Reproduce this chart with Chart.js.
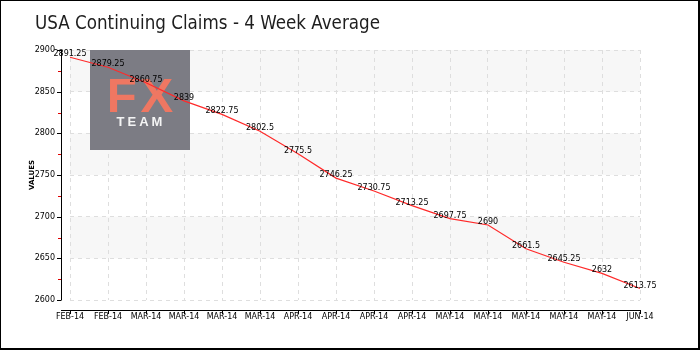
<!DOCTYPE html>
<html>
<head>
<meta charset="utf-8">
<script src="https://cdn.jsdelivr.net/npm/chart.js@4"></script>
<style>
  html, body { margin: 0; padding: 0; background: #fff; }
  #wrap { position: relative; width: 700px; height: 350px; }
</style>
</head>
<body>
<div id="wrap"><canvas id="claimsChart" width="700" height="350"></canvas></div>
<script>
const titleText = 'USA Continuing Claims - 4 Week Average';
const months = ['FEB-14', 'FEB-14', 'MAR-14', 'MAR-14', 'MAR-14', 'MAR-14',
  'APR-14', 'APR-14', 'APR-14', 'APR-14',
  'MAY-14', 'MAY-14', 'MAY-14', 'MAY-14', 'MAY-14', 'JUN-14'];
const claims = [2891.25, 2879.25, 2860.75, 2839, 2822.75, 2802.5, 2775.5, 2746.25,
  2730.75, 2713.25, 2697.75, 2690, 2661.5, 2645.25, 2632, 2613.75];
const yMin = 2600;
const yMax = 2900;
const yStep = 50;

const tickFont = { family: 'DejaVu Sans', size: 8 };

// background bands, axis lines, watermark, value labels, title and frame
const decorations = {
  id: 'decorations',
  beforeDraw(chart) {
    const { ctx, chartArea: a, scales: { y } } = chart;
    ctx.save();
    ctx.fillStyle = '#fff';
    ctx.fillRect(0, 0, chart.width, chart.height);
    ctx.fillStyle = '#f7f7f7';
    for (let v = yMin + yStep; v < yMax; v += yStep * 2) {
      const top = y.getPixelForValue(v + yStep);
      const bottom = y.getPixelForValue(v);
      ctx.fillRect(a.left, top, a.right - a.left, bottom - top);
    }
    ctx.restore();
  },
  beforeDatasetsDraw(chart) {
    const ctx = chart.ctx;
    ctx.save();
    ctx.fillStyle = '#7c7c84';
    ctx.fillRect(90, 50, 100, 100);
    ctx.fillStyle = '#ef7762';
    ctx.font = 'bold 49px "Liberation Sans"';
    ctx.textAlign = 'center';
    ctx.textBaseline = 'alphabetic';
    ctx.letterSpacing = '4px';
    ctx.fillText('FX', 142, 112);
    ctx.fillStyle = '#f4f4f4';
    ctx.font = 'bold 13px "Liberation Sans"';
    ctx.letterSpacing = '3px';
    ctx.fillText('TEAM', 141, 126);
    ctx.restore();
  },
  afterDatasetsDraw(chart) {
    const ctx = chart.ctx;
    const meta = chart.getDatasetMeta(0);
    ctx.save();
    ctx.fillStyle = '#000';
    ctx.font = '8px "DejaVu Sans"';
    ctx.textAlign = 'center';
    ctx.textBaseline = 'bottom';
    meta.data.forEach((pt, i) => {
      ctx.fillText(String(claims[i]), pt.x, pt.y + 1);
    });
    ctx.restore();
  },
  afterDraw(chart) {
    const { ctx, chartArea: a, scales: { x, y } } = chart;
    const axisX = a.left - 9;
    const axisY = a.bottom + 10;
    ctx.save();
    ctx.strokeStyle = '#000';
    ctx.lineWidth = 1;
    ctx.beginPath();
    ctx.moveTo(axisX + 0.5, a.top);
    ctx.lineTo(axisX + 0.5, a.bottom + 0.5);
    ctx.moveTo(axisX, axisY + 0.5);
    ctx.lineTo(a.right + 0.5, axisY + 0.5);
    // major ticks on the value axis
    for (let v = yMin; v <= yMax; v += yStep) {
      const py = Math.round(y.getPixelForValue(v)) + 0.5;
      ctx.moveTo(axisX - 4, py);
      ctx.lineTo(axisX, py);
    }
    // ticks on the month axis
    months.forEach((m, i) => {
      const px = Math.round(x.getPixelForTick(i)) + 0.5;
      ctx.moveTo(px, axisY);
      ctx.lineTo(px, axisY + 4);
    });
    ctx.stroke();
    // minor ticks between the labelled values
    ctx.strokeStyle = '#e00000';
    ctx.beginPath();
    for (let v = yMin + yStep / 2; v < yMax; v += yStep) {
      const py = Math.round(y.getPixelForValue(v)) + 0.5;
      ctx.moveTo(axisX - 3, py);
      ctx.lineTo(axisX, py);
    }
    ctx.stroke();

    // axis title
    ctx.fillStyle = '#000';
    ctx.font = 'bold 7px "DejaVu Sans"';
    ctx.textAlign = 'center';
    ctx.textBaseline = 'middle';
    ctx.translate(32, (a.top + a.bottom) / 2);
    ctx.rotate(-Math.PI / 2);
    ctx.fillText('VALUES', 0, 0);
    ctx.setTransform(1, 0, 0, 1, 0, 0);

    // chart title
    ctx.fillStyle = '#1e1e1e';
    ctx.font = '20px "DejaVu Sans Condensed", "DejaVu Sans"';
    ctx.textAlign = 'left';
    ctx.textBaseline = 'alphabetic';
    ctx.fillText(titleText, 35, 29, 345);

    // frame
    ctx.fillStyle = '#000';
    ctx.fillRect(0, 0, chart.width, 1);
    ctx.fillRect(0, 0, 1, chart.height);
    ctx.fillRect(chart.width - 2, 0, 2, chart.height);
    ctx.fillRect(0, chart.height - 2, chart.width, 2);
    ctx.restore();
  }
};

const ctx = document.getElementById('claimsChart').getContext('2d');
const chart = new Chart(ctx, {
  type: 'line',
  data: {
    labels: months,
    datasets: [{
      label: 'Values',
      data: claims,
      borderColor: '#ff2a2a',
      borderWidth: 1.2,
      pointRadius: 0,
      tension: 0,
      fill: false
    }]
  },
  options: {
    responsive: false,
    animation: false,
    layout: { padding: { top: 50, right: 60, left: 0, bottom: 0 } },
    plugins: {
      legend: { display: false },
      title: { display: false },
      tooltip: { enabled: false }
    },
    scales: {
      x: {
        offset: false,
        border: { display: false, dash: [4, 4] },
        grid: { color: '#dedede', drawTicks: false },
        ticks: { font: tickFont, color: '#000', padding: 12, autoSkip: false, maxRotation: 0 },
        afterFit(scale) { scale.height = 50; }
      },
      y: {
        min: yMin,
        max: yMax,
        border: { display: false, dash: [4, 4] },
        grid: { color: '#dedede', drawTicks: false },
        ticks: {
          stepSize: yStep, font: tickFont, color: '#000', padding: 15,
          callback: (value) => String(value)
        },
        afterFit(scale) { scale.width = 70; }
      }
    }
  },
  plugins: [decorations]
});
</script>
</body>
</html>
